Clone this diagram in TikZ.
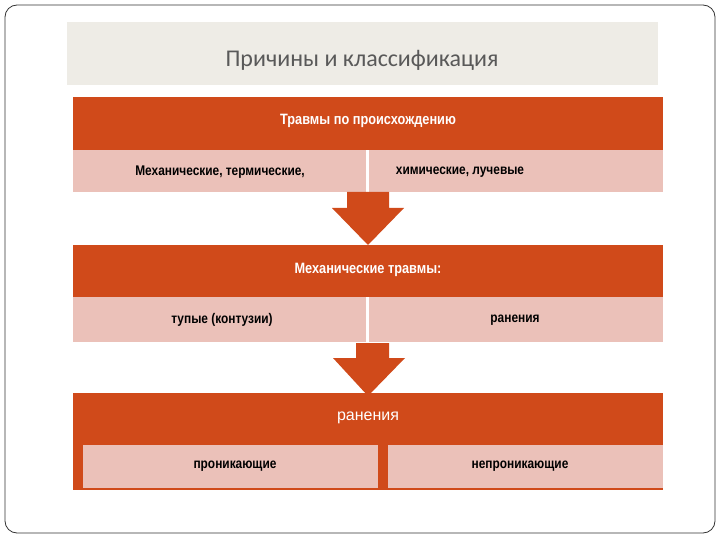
\documentclass[tikz,border=0pt]{standalone}
\usepackage{fontspec}
\setmainfont{Liberation Sans}
\newfontfamily\narrowf[FakeStretch=0.85]{Liberation Sans}
\newfontfamily\titlef{Carlito}
\definecolor{orng}{HTML}{D04A1A}
\definecolor{pnk}{HTML}{EBC1B9}
\definecolor{ttlbg}{HTML}{EEECE6}
\begin{document}
\begin{tikzpicture}[x=1pt,y=-1pt,
  hdr/.style={fill=orng,draw=none},
  cell/.style={fill=pnk,draw=none},
  htxt/.style={text=white,font=\narrowf\bfseries\fontsize{15}{18}\selectfont},
  ctxt/.style={text=black,font=\narrowf\bfseries\fontsize{14}{17}\selectfont},
  arr/.style={fill=orng,draw=none}]
\useasboundingbox (0,0) rectangle (720,540);
\draw[rounded corners=12pt,line width=0.8pt,draw=black!80] (5,5) rectangle (715,533);
\fill[ttlbg] (67,22) rectangle (658,85);
\node[text=black!65,font=\titlef\fontsize{24}{28}\selectfont] (t) at (362,60) {Причины и классификация};
% block 1
\fill[hdr] (73,97) rectangle (663,150);
\node[htxt] (h1) at (368,121) {Травмы по происхождению};
\fill[cell] (73,150) rectangle (366,192);
\fill[cell] (369,150) rectangle (663,192);
\node[ctxt] (c1a) at (220,172) {Механические, термические,};
\node[ctxt] (c1b) at (460,172) {химические, лучевые};
% arrow 1
\fill[arr] (356,192) -- (389,192) -- (389,208) -- (404,208) -- (368,245) -- (332,208) -- (347,208) -- (347,192) -- cycle;
% block 2
\fill[hdr] (73,245) rectangle (663,297);
\node[htxt] (h2) at (368,270) {Механические травмы:};
\fill[cell] (73,297) rectangle (366,342);
\fill[cell] (369,297) rectangle (663,342);
\node[ctxt] (c2a) at (222,320) {тупые (контузии)};
\node[ctxt] (c2b) at (515,320) {ранения};
% arrow 2
\fill[arr] (356,343) -- (389,343) -- (389,358) -- (405,358) -- (368,396) -- (333,358) -- (356,358) -- cycle;
% block 3
\fill[hdr] (73,393) rectangle (663,490);
\node[text=white,font=\fontsize{16}{19}\selectfont] (h3) at (368,418) {ранения};
\fill[cell] (83,445) rectangle (378,488);
\fill[cell] (388,445) rectangle (663,488);
\node[ctxt] (c3a) at (235,466) {проникающие};
\node[ctxt] (c3b) at (520,466) {непроникающие};
\end{tikzpicture}
\end{document}
